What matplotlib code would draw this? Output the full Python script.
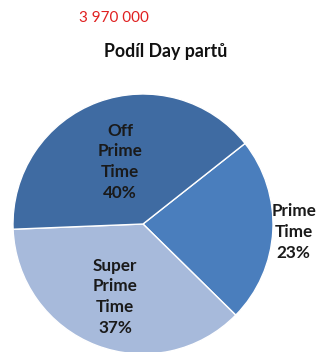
import numpy as np
import matplotlib
matplotlib.use("Agg")
import matplotlib.pyplot as plt

plt.rcParams["font.family"] = ["Lato", "DejaVu Sans"]

# Day-part shares, in drawing order (clockwise from the upper-right boundary)
parts = ["Prime\nTime", "Super\nPrime\nTime", "Off\nPrime\nTime"]
shares = [23, 37, 40]
colors = ["#4A7EBD", "#A7BADB", "#3F6BA2"]
total_label = "3 970 000"
title = "Podíl Day partů"

W, H = 323, 352
fig = plt.figure(figsize=(W / 100, H / 100), dpi=100)
fig.patch.set_facecolor("white")

# pie centred at (143, 224) px with radius 130 px
cx, cy, r = 143, 224, 130
ax = fig.add_axes([(cx - r) / W, (H - cy - r) / H, 2 * r / W, 2 * r / H])
start = 38.3
wedges, _ = ax.pie(shares, colors=colors, startangle=start, counterclock=False,
                   radius=1.0, wedgeprops=dict(edgecolor="white", linewidth=1.0))
ax.set_xlim(-1, 1)
ax.set_ylim(-1, 1)
ax.set_aspect("equal")
ax.axis("off")

# label positions: radial distance per slice
label_r = [1.16, 0.60, 0.51]
for w, name, pct, lr in zip(wedges, parts, shares, label_r):
    mid = np.deg2rad((w.theta1 + w.theta2) / 2)
    ax.text(lr * np.cos(mid), lr * np.sin(mid), f"{name}\n{pct}%",
            ha="center", va="center", fontsize=12.3, fontweight="bold",
            color="#1A1A1A", linespacing=1.36, clip_on=False)

fig.text(79 / W, 1 - 18 / H, total_label, color="#E02020", fontsize=11,
         ha="left", va="center")
fig.text(166 / W, 1 - 52 / H, title, color="#111111", fontsize=12.8,
         fontweight="bold", ha="center", va="center")

fig.savefig("out.png", dpi=100, facecolor="white")
